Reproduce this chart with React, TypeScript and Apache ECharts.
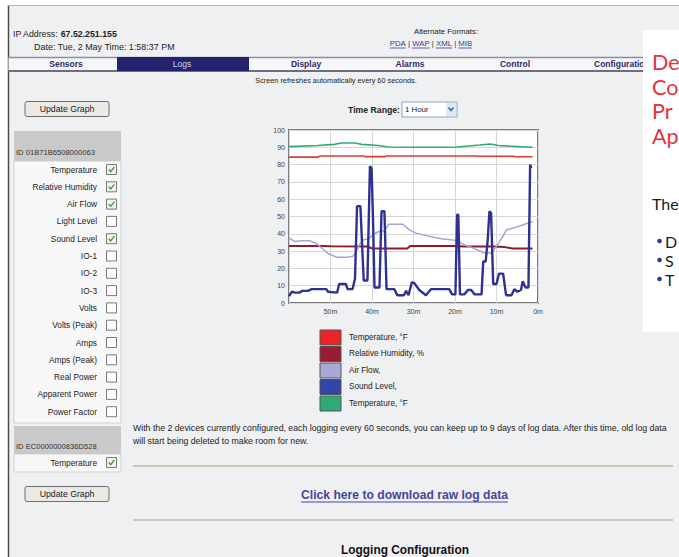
import React, { useEffect, useRef } from "react";
import * as echarts from "echarts";

// ---------- chart data ----------
const seriesNames = ["Temperature, °F", "Relative Humidity, %", "Air Flow,", "Sound Level,", "Temperature, °F"];
const seriesColors = ["#df3a2c", "#8c1c2c", "#a7a3d3", "#2f3192", "#35a676"];
const legendColors = ["#e8262a", "#9a1c32", "#a9a9d9", "#3146a6", "#2eaa78"];
const seriesWidths = [1.6, 2, 1.5, 2.4, 1.6];

// x = minutes ago, y = value
const temperaturePoints = [
  [60, 84.3], [53, 84.3], [52.5, 85], [42, 85], [41.5, 84.6], [37, 84.6], [36.5, 85],
  [15, 85], [14, 84.8], [6, 84.8], [5.5, 84.5], [1.3, 84.5],
];
const humidityPoints = [
  [60, 33], [52, 33], [50, 32.8], [41, 32.6], [40, 31.5], [31.5, 31.5], [30.8, 33],
  [20, 33], [18, 32.7], [11, 32.6], [8, 32.3], [6, 31.5], [1.3, 31.5],
];
const airFlowPoints = [
  [60, 37.5], [58.5, 35.5], [57, 36], [55, 36], [53.2, 34], [52, 31.5], [50.5, 28.5],
  [48.5, 26.5], [46, 26.5], [44.6, 27], [43.5, 31], [43, 34], [42, 36.5], [40.6, 37.5],
  [39.5, 40], [38.2, 41.3], [37, 41.7], [36, 45.5], [32.6, 45.5], [31, 42.3], [29.4, 40.4],
  [26.1, 38.5], [22.9, 37], [19.7, 36.2], [18.1, 34], [15.6, 31.7], [13.2, 29.2],
  [11.2, 28.8], [9.2, 35.6], [8.6, 38], [7.6, 42.3], [6, 43.3], [3.5, 45.2], [1.9, 46.7], [1.3, 47],
];
const soundLevelPoints = [
  [60, 4], [59.3, 6.5], [58.5, 6], [57.5, 6], [56.8, 7], [55.5, 7], [54.5, 8], [51, 8],
  [50.6, 6.5], [48.4, 6], [47.9, 11], [46.3, 11], [45.9, 8], [44.7, 8], [44.1, 14],
  [43.6, 56], [42.8, 56], [42, 13], [41.1, 13], [40.5, 79], [40.1, 78], [39.7, 43],
  [39.4, 9], [38.2, 9], [37.7, 53], [37, 53], [36.5, 8], [34.6, 8], [33.9, 4.5],
  [32.3, 4.5], [31.8, 7], [31.2, 4.5], [30.4, 12], [29.8, 11.5], [28.6, 7.5], [27, 4.5],
  [25.8, 8], [21.4, 8], [20.7, 5], [19.9, 5], [19.5, 51], [19.2, 51], [18.8, 5],
  [17.7, 5], [16.9, 7.5], [16.1, 7.5], [15.3, 5], [13.6, 5], [13.2, 24], [12.6, 24],
  [12.1, 37], [11.7, 53], [11.3, 52], [10.8, 11], [10, 11], [9.4, 17], [8.4, 17],
  [7.7, 4.5], [6.4, 4.5], [5.7, 8], [5, 6.5], [4.1, 7.5], [3.7, 12.5], [3, 9], [2.3, 9],
  [1.9, 80], [1.6, 78],
];
const temperature2Points = [
  [60, 90.4], [53, 91], [49, 91.7], [47.5, 92.5], [44, 92.5], [42.5, 91.7], [38.5, 91],
  [36, 90.2], [30, 90], [22, 90], [19.5, 90.2], [14, 91.3], [11.5, 91.9], [9.5, 91],
  [6.3, 90.6], [1.3, 90],
];
const seriesData = [temperaturePoints, humidityPoints, airFlowPoints, soundLevelPoints, temperature2Points];

const xTickLabels = ["0m", "10m", "20m", "30m", "40m", "50m", ""];

// ---------- page texts ----------
const navTabs = ["Sensors", "Logs", "Display", "Alarms", "Control", "Configuration"];
const device1Id = "ID 01B71B6508000063";
const device1Sensors = [
  "Temperature", "Relative Humidity", "Air Flow", "Light Level", "Sound Level", "IO-1", "IO-2",
  "IO-3", "Volts", "Volts (Peak)", "Amps", "Amps (Peak)", "Real Power", "Apparent Power", "Power Factor",
];
const device1Checked = [true, true, true, false, true, false, false, false, false, false, false, false, false, false, false];
const device2Id = "ID EC0000000836D528";
const device2Sensors = ["Temperature"];
const device2Checked = [true];
const formatLinks = ["PDA", "WAP", "XML", "MIB"];
const sideHeadline = ["De", "Co", "Pr", "Ap"];
const sideBullets = ["D", "S", "T"];

const FONT = '"Liberation Sans", Arial, sans-serif';
const MAG_FONT = "Lato, 'Noto Sans', sans-serif";

function measure(text: string, size: number, weight = "normal", family = FONT) {
  const c = document.createElement("canvas").getContext("2d");
  if (!c) return text.length * size * 0.5;
  c.font = `${weight} ${size}px ${family}`;
  return c.measureText(text).width;
}
function fit(text: string, width: number, weight = "normal", family = FONT) {
  return (10 * width) / measure(text, 10, weight, family);
}

function T(x: number, y: number, text: string, o: any = {}) {
  return {
    type: "text",
    x,
    y,
    z: o.z ?? 10,
    style: {
      text,
      fill: o.fill ?? "#222",
      fontSize: o.size ?? 8.5,
      fontFamily: o.family ?? FONT,
      fontWeight: o.weight ?? "normal",
      align: o.align ?? "left",
      verticalAlign: "middle",
    },
  };
}
function R(x: number, y: number, w: number, h: number, fill: string, stroke?: string, lw = 1, r = 0, z = 5) {
  return { type: "rect", z, shape: { x, y, width: w, height: h, r }, style: { fill, stroke: stroke ?? null, lineWidth: lw } };
}
function L(x1: number, y1: number, x2: number, y2: number, stroke: string, lw = 1, z = 6) {
  return { type: "line", z, shape: { x1, y1, x2, y2 }, style: { stroke, lineWidth: lw } };
}

function checkbox(x: number, y: number, checked: boolean) {
  const els: any[] = [R(x, y - 5, 10, 10, checked ? "#eef5ea" : "#fdfdfd", "#7a7a7a", 1, 0, 8)];
  if (checked)
    els.push({
      type: "polyline",
      z: 9,
      shape: { points: [[x + 2.2, y], [x + 4.2, y + 2.2], [x + 7.8, y - 2.5]] },
      style: { stroke: "#3c9a3c", lineWidth: 1.3, fill: null },
    });
  return els;
}

function buildGraphics() {
  const g: any[] = [];
  // outer white strips and frame
  g.push(R(0, 0, 679, 5, "#ffffff", undefined, 1, 0, 1));
  g.push(R(0, 0, 8, 557, "#ffffff", undefined, 1, 0, 1));
  g.push(L(8.5, 5, 8.5, 557, "#4a4a4a", 1.5, 2));
  g.push(L(8, 5.5, 679, 5.5, "#b8b8b8", 1, 2));

  // header
  const ipLabel = "IP Address: ";
  const ipSize = fit("IP Address: 67.52.251.155", 104);
  g.push(T(13, 34, ipLabel, { size: ipSize }));
  g.push(T(13 + measure(ipLabel, ipSize), 34, "67.52.251.155", { size: ipSize, weight: "bold" }));
  const dateText = "Date: Tue, 2 May Time: 1:58:37 PM";
  g.push(T(34, 47, dateText, { size: fit(dateText, 141) }));
  g.push(T(446, 31, "Alternate Formats:", { size: 7.8, align: "center" }));
  {
    const size = 7.8;
    const sep = " | ";
    const parts: string[] = [];
    formatLinks.forEach((p, i) => {
      parts.push(p);
      if (i < formatLinks.length - 1) parts.push(sep);
    });
    const total = parts.reduce((s, p) => s + measure(p, size), 0);
    let x = 431 - total / 2;
    parts.forEach((p) => {
      const w = measure(p, size);
      const isLink = p !== sep;
      g.push(T(x, 43.5, p, { size, fill: isLink ? "#3a3a9c" : "#333" }));
      if (isLink) g.push(L(x, 48, x + w, 48, "#3a3a9c", 0.8));
      x += w;
    });
  }

  // nav bar
  g.push(R(8.5, 57, 635, 14, "#f7f7fa", undefined, 1, 0, 3));
  g.push(L(8.5, 57.5, 643, 57.5, "#8c8ca2", 1.5, 4));
  g.push(L(8.5, 71, 643, 71, "#6e6e82", 2, 4));
  g.push(R(117, 57, 132, 14, "#23236e", undefined, 1, 0, 5));
  const navX = [66, 182, 306, 410, 515, 594];
  navTabs.forEach((t, i) => {
    const active = i === 1;
    g.push(
      T(navX[i], 64, t, {
        size: 8.5,
        weight: active ? "normal" : "bold",
        fill: active ? "#d4d4e6" : "#2a2a6c",
        align: i === 5 ? "left" : "center",
      })
    );
  });
  g.push(T(336, 80, "Screen refreshes automatically every 60 seconds.", { size: 7.3, align: "center" }));

  // buttons
  const button = (y: number) => {
    g.push(R(25, y, 84, 15, "#ebe9e3", "#6e6e6e", 1, 2, 6));
    g.push(T(67, y + 7.8, "Update Graph", { size: 8.7, align: "center", fill: "#1a1a1a" }));
  };
  button(101.5);
  button(486.5);

  // time range
  g.push(T(400, 109.5, "Time Range:", { size: 8.7, weight: "bold", align: "right" }));
  g.push(R(402, 102, 55, 15, "#ffffff", "#8aa2c8", 1, 0, 6));
  g.push(T(405, 109.5, "1 Hour", { size: 7.8 }));
  g.push(R(446, 103, 10, 13, "#dfe7f5", undefined, 1, 0, 7));
  g.push({
    type: "polyline",
    z: 8,
    shape: { points: [[448.5, 107.5], [451, 110.5], [453.5, 107.5]] },
    style: { stroke: "#4a64a8", lineWidth: 1.6, fill: null },
  });

  // device panel 1
  g.push(R(14, 131, 107, 30, "#c9c9c9", undefined, 1, 0, 5));
  g.push(T(16, 152, device1Id, { size: 7.6, fill: "#333" }));
  g.push(R(14, 161, 107, 262, "#f8f8f8", "#d0d0d0", 1, 0, 4));
  device1Sensors.forEach((s, i) => {
    const y = 169.5 + i * 17.3;
    g.push(T(97, y, s, { size: 8.3, align: "right", fill: "#222" }));
    checkbox(106.5, y, device1Checked[i]).forEach((e) => g.push(e));
  });

  // device panel 2
  g.push(R(14, 426, 107, 28, "#c9c9c9", undefined, 1, 0, 5));
  g.push(T(16, 446, device2Id, { size: 7.6, fill: "#333" }));
  g.push(R(14, 454, 107, 18, "#f8f8f8", "#d0d0d0", 1, 0, 4));
  device2Sensors.forEach((s, i) => {
    const y = 462.5 + i * 17.3;
    g.push(T(97, y, s, { size: 8.3, align: "right" }));
    checkbox(106.5, y, device2Checked[i]).forEach((e) => g.push(e));
  });

  // legend
  seriesNames.forEach((n, i) => {
    const y = 330 + i * 16.5;
    g.push(R(320, y, 21, 15, legendColors[i], "#555555", 1, 0, 6));
    g.push(T(349, y + 7.3, n, { size: 8.2 }));
  });

  // paragraph and links
  const p1 = "With the 2 devices currently configured, each logging every 60 seconds, you can keep up to 9 days of log data. After this time, old log data";
  const pSize = fit(p1, 535);
  g.push(T(133, 428, p1, { size: pSize }));
  g.push(T(133, 441, "will start being deleted to make room for new.", { size: pSize }));
  g.push(L(133, 466, 673, 466, "#cdc6b6", 2));
  {
    const txt = "Click here to download raw log data";
    const size = fit(txt, 207, "bold");
    const w = measure(txt, size, "bold");
    g.push(T(404.5, 495, txt, { size, weight: "bold", align: "center", fill: "#4646a0" }));
    g.push(L(404.5 - w / 2, 502, 404.5 + w / 2, 502, "#4646a0", 1));
  }
  g.push(L(133, 520, 673, 520, "#cdc6b6", 2));
  {
    const txt = "Logging Configuration";
    g.push(T(405, 550, txt, { size: fit(txt, 128, "bold"), weight: "bold", align: "center", fill: "#111" }));
  }

  // magazine side panel
  g.push(R(643, 30, 40, 302, "#ffffff", undefined, 1, 0, 20));
  sideHeadline.forEach((h, i) => {
    g.push(T(652, 62 + i * 24.5, h, { size: 21.5, family: MAG_FONT, fill: "#e8323a", z: 21 }));
  });
  g.push(T(652, 203, "The", { size: 16, family: MAG_FONT, fill: "#1a1a1a", z: 21 }));
  sideBullets.forEach((b, i) => {
    const y = 241 + i * 19;
    g.push({ type: "circle", z: 21, shape: { cx: 659.5, cy: y, r: 2.3 }, style: { fill: "#2f3a8f" } });
    g.push(T(665, y, b, { size: 16, family: MAG_FONT, fill: "#1a1a1a", z: 21 }));
  });
  return g;
}

export default function App() {
  const ref = useRef<HTMLDivElement>(null);
  useEffect(() => {
    if (!ref.current) return;
    const chart = echarts.init(ref.current, undefined, { renderer: "svg" });
    const option: any = {
      animation: false,
      backgroundColor: "#eff0f2",
      grid: {
        left: 289,
        top: 130,
        width: 249,
        height: 173,
        show: true,
        backgroundColor: "#ffffff",
        borderColor: "#7c7c7c",
        borderWidth: 2,
      },
      xAxis: {
        type: "value",
        min: 0,
        max: 60,
        interval: 10,
        inverse: true,
        axisLine: { show: false },
        axisTick: { show: false },
        axisLabel: {
          formatter: (v: number) => xTickLabels[Math.round(v / 10)] ?? "",
          fontSize: 7,
          color: "#444",
          margin: 5,
          fontFamily: FONT,
        },
        splitLine: { show: true, lineStyle: { color: "#d8d8d8", width: 1 } },
      },
      yAxis: {
        type: "value",
        min: 0,
        max: 100,
        interval: 10,
        axisLine: { show: false },
        axisTick: { show: false },
        axisLabel: { fontSize: 7, color: "#444", margin: 4, fontFamily: FONT },
        splitLine: { show: true, lineStyle: { color: "#d8d8d8", width: 1 } },
      },
      series: seriesData.map((d, i) => ({
        name: seriesNames[i] + (i === 4 ? " " : ""),
        type: "line",
        data: d,
        symbol: "none",
        silent: true,
        lineStyle: { color: seriesColors[i], width: seriesWidths[i] },
        z: 2 + i,
      })),
      graphic: { elements: buildGraphics() },
    };
    chart.setOption(option);
    return () => chart.dispose();
  }, []);
  return <div ref={ref} style={{ position: "fixed", left: 0, top: 0, width: 679, height: 557 }} />;
}
